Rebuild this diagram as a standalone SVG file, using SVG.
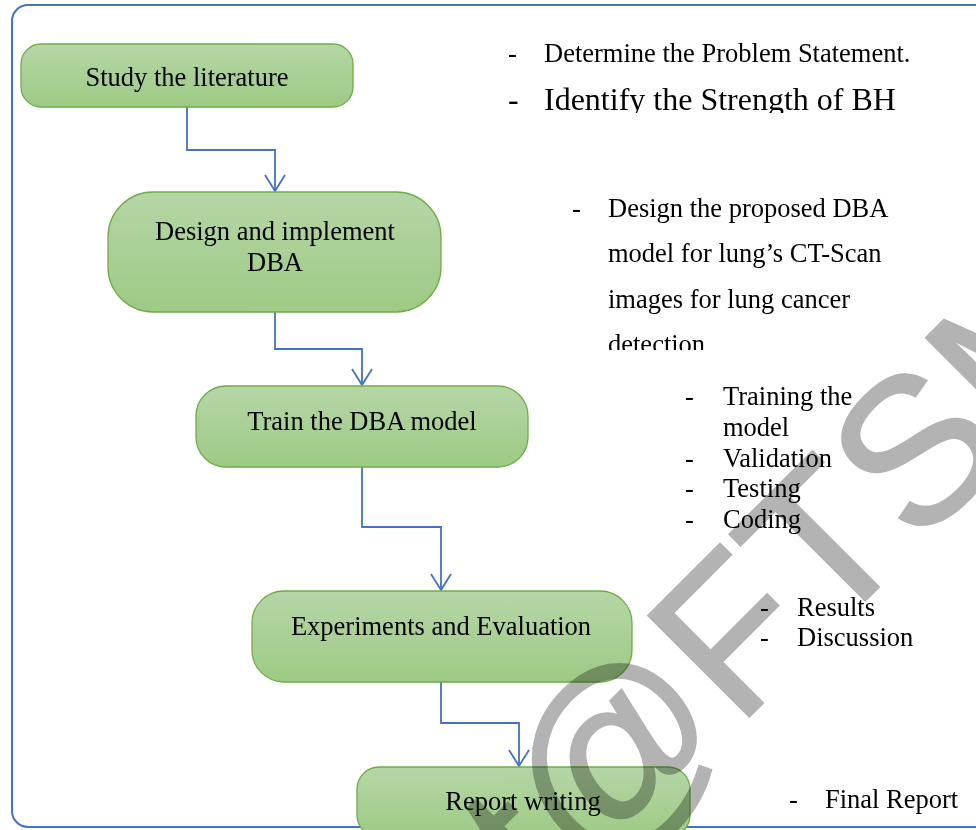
<svg xmlns="http://www.w3.org/2000/svg" width="976" height="830" viewBox="0 0 976 830">
<defs>
<linearGradient id="g" x1="0" y1="0" x2="0" y2="1">
<stop offset="0" stop-color="#b5d6a7"/>
<stop offset="1" stop-color="#9dca84"/>
</linearGradient>
<marker id="ah" markerWidth="24" markerHeight="24" refX="20" refY="12" orient="auto" markerUnits="userSpaceOnUse" viewBox="0 0 24 24">
<path d="M4 2 L20 12 L4 22" fill="none" stroke="#4472c4" stroke-width="1.8"/>
</marker>
<clipPath id="c1"><rect x="480" y="80" width="496" height="33"/></clipPath>
<clipPath id="c2"><rect x="540" y="180" width="400" height="170"/></clipPath>
</defs>
<style>
.n{fill:url(#g);stroke:#70ad47;stroke-width:1.3}
.t{font-family:"Liberation Serif","Times New Roman",serif;font-size:26.5px;fill:#000}
.c{fill:none;stroke:#4472c4;stroke-width:1.8}
.w{font-family:"Liberation Sans",Arial,sans-serif;font-size:208px;fill:#b3b3b3;stroke:#b3b3b3;stroke-width:2;mix-blend-mode:multiply}
</style>
<rect x="12" y="5" width="1000" height="822" rx="16" fill="#fff" stroke="#4472c4" stroke-width="2"/>
<g id="connectors">
<path class="c" d="M187 107 V150 H275 V191" marker-end="url(#ah)"/>
<path class="c" d="M275 312 V349 H362 V385" marker-end="url(#ah)"/>
<path class="c" d="M362 467 V527 H441 V590" marker-end="url(#ah)"/>
<path class="c" d="M441 682 V723 H519 V766" marker-end="url(#ah)"/>
</g>
<g id="n1"><rect class="n" x="21" y="44" width="332" height="63" rx="20"/><text class="t" x="187" y="86" text-anchor="middle">Study the literature</text></g>
<g id="n2"><rect class="n" x="108" y="192" width="333" height="120" rx="45"/><text class="t" x="275" y="240" text-anchor="middle">Design and implement</text><text class="t" x="275" y="271" text-anchor="middle">DBA</text></g>
<g id="n3"><rect class="n" x="196" y="386" width="332" height="81" rx="30"/><text class="t" x="362" y="430" text-anchor="middle">Train the DBA model</text></g>
<g id="n4"><rect class="n" x="252" y="591" width="380" height="91" rx="32"/><text class="t" x="441" y="635" text-anchor="middle">Experiments and Evaluation</text></g>
<g id="n5"><rect class="n" x="357" y="767" width="333" height="70" rx="22"/><text class="t" x="523" y="810" text-anchor="middle">Report writing</text></g>
<g id="notes">
<text class="t" x="508" y="62">-</text><text class="t" x="544" y="62">Determine the Problem Statement.</text>
<g clip-path="url(#c1)"><text class="t" x="508" y="110" style="font-size:32px">-</text><text class="t" x="544" y="110" style="font-size:32px">Identify the Strength of BH</text></g>
<g clip-path="url(#c2)">
<text class="t" x="572" y="217">-</text>
<text class="t" x="608" y="217">Design the proposed DBA</text>
<text class="t" x="608" y="262">model for lung’s CT-Scan</text>
<text class="t" x="608" y="308">images for lung cancer</text>
<text class="t" x="608" y="353">detection</text>
</g>
<text class="t" x="685" y="405">-</text><text class="t" x="723" y="405">Training the</text>
<text class="t" x="723" y="436">model</text>
<text class="t" x="685" y="467">-</text><text class="t" x="723" y="467">Validation</text>
<text class="t" x="685" y="497">-</text><text class="t" x="723" y="497">Testing</text>
<text class="t" x="685" y="528">-</text><text class="t" x="723" y="528">Coding</text>
<text class="t" x="760" y="616">-</text><text class="t" x="797" y="616">Results</text>
<text class="t" x="760" y="646">-</text><text class="t" x="797" y="646">Discussion</text>
<text class="t" x="789" y="808">-</text><text class="t" x="825" y="808">Final Report</text>
</g>
<g id="watermark" transform="translate(588,878) rotate(-45)">
<text class="w" x="0" y="0" text-anchor="end">t</text>
<text class="w" x="0" y="0">@FTSM</text>
</g>
</svg>
